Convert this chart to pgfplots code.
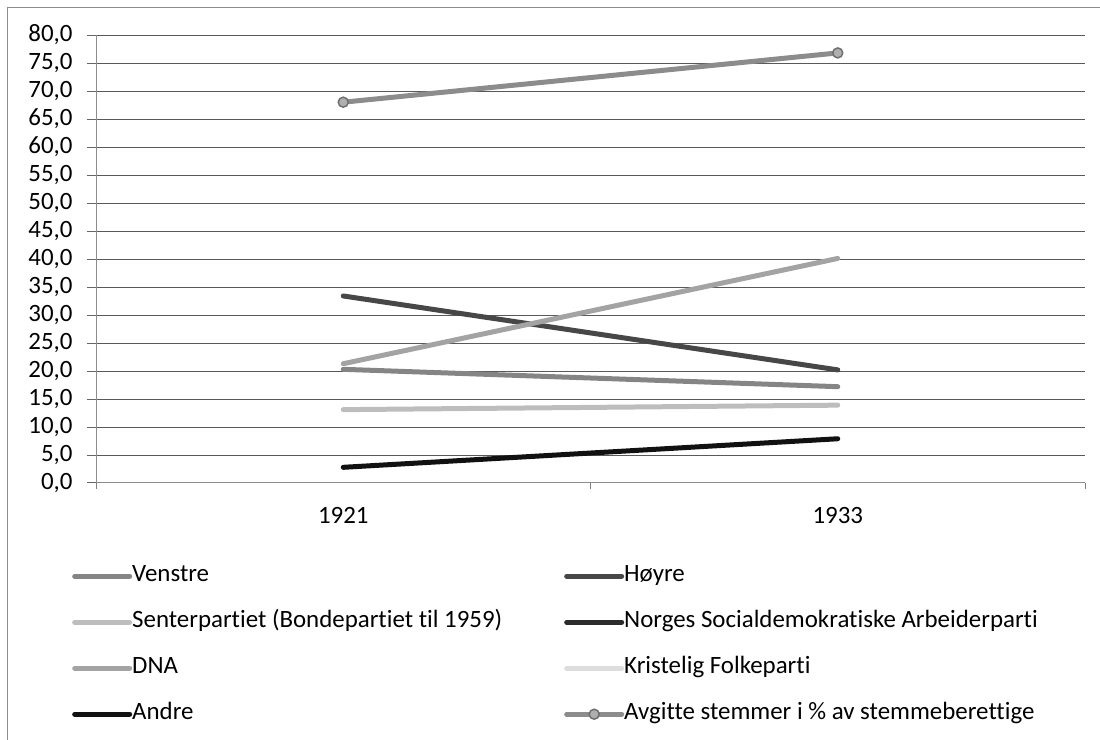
\documentclass[border=0pt]{standalone}
\usepackage{pgfplots}
\pgfplotsset{compat=1.18}
\usepackage{fontspec}
\setmainfont{Carlito}[Ligatures=NoCommon]
\definecolor{cVen}{HTML}{858585}
\definecolor{cHoy}{HTML}{474747}
\definecolor{cSen}{HTML}{BDBDBD}
\definecolor{cNSA}{HTML}{2B2B2B}
\definecolor{cDNA}{HTML}{A3A3A3}
\definecolor{cKrF}{HTML}{DDDDDD}
\definecolor{cAnd}{HTML}{111111}
\definecolor{cAvg}{HTML}{8C8C8C}
\begin{document}
\begin{tikzpicture}
\path[use as bounding box] (0,0) rectangle (1100bp,740bp);
\draw[black!45, line width=1bp] (7bp,0) -- (7bp,732bp) -- (1100bp,732bp);
\begin{axis}[
  at={(96bp,257bp)}, anchor=south west,
  scale only axis, width=989bp, height=448bp,
  font=\fontsize{25}{30}\selectfont,
  xmin=-0.5, xmax=1.5, ymin=0, ymax=80,
  xtick={0,1}, xticklabels={1921,1933},
  minor xtick={-0.5,0.5,1.5},
  ytick={0,5,...,80},
  ymajorgrids,
  major grid style={black!65, line width=1bp},
  axis x line*=bottom, axis y line*=left,
  axis line style={black!45, line width=1bp},
  tick align=outside,
  major tick length=9bp, minor tick length=6bp,
  major x tick style={draw=none},
  minor x tick style={black!50, line width=1bp},
  major y tick style={black!60, line width=1bp},
  xticklabel style={yshift=-12bp},
  yticklabel style={xshift=-11bp},
  /pgf/number format/.cd, fixed, fixed zerofill, precision=1, use comma, assume math mode=true,
  /pgfplots/.cd,
  legend columns=2,
  legend cell align=left,
  legend style={at={(axis description cs:-0.0273,-0.1775)}, anchor=north west, draw=none, fill=none,
    /tikz/every odd column/.append style={column sep=0bp},
    row sep=23bp,
    nodes={inner sep=0pt, text height=17bp, text depth=6bp}},
  legend image code/.code={\draw[mark repeat=2,mark phase=2,#1] plot coordinates {(0bp,0bp) (27.5bp,0bp) (55bp,0bp)};},
  every axis plot/.append style={line width=5bp, line cap=round},
]
\addplot[cVen, no marks] coordinates {(0,20.3) (1,17.2)};
\addlegendentry{\makebox[432bp][l]{Venstre}}
\addplot[cHoy, no marks] coordinates {(0,33.4) (1,20.2)};
\addlegendentry{Høyre}
\addplot[cSen, no marks] coordinates {(0,13.1) (1,13.9)};
\addlegendentry{\makebox[432bp][l]{Senterpartiet (Bondepartiet til 1959)}}
\addplot[cNSA, no marks] coordinates {(0,9.2)};
\addlegendentry{Norges Socialdemokratiske Arbeiderparti}
\addplot[cDNA, no marks] coordinates {(0,21.3) (1,40.1)};
\addlegendentry{\makebox[432bp][l]{DNA}}
\addplot[cKrF, no marks] coordinates {(1,0.8)};
\addlegendentry{Kristelig Folkeparti}
\addplot[cAnd, no marks] coordinates {(0,2.8) (1,7.9)};
\addlegendentry{\makebox[432bp][l]{Andre}}
\addplot[cAvg, mark=*, mark size=5bp, mark options={fill=cAvg!70, draw=cAvg!80!black, line width=1.5bp}] coordinates {(0,68.0) (1,76.8)};
\addlegendentry{Avgitte stemmer i \% av stemmeberettige}
\end{axis}
\end{tikzpicture}
\end{document}
